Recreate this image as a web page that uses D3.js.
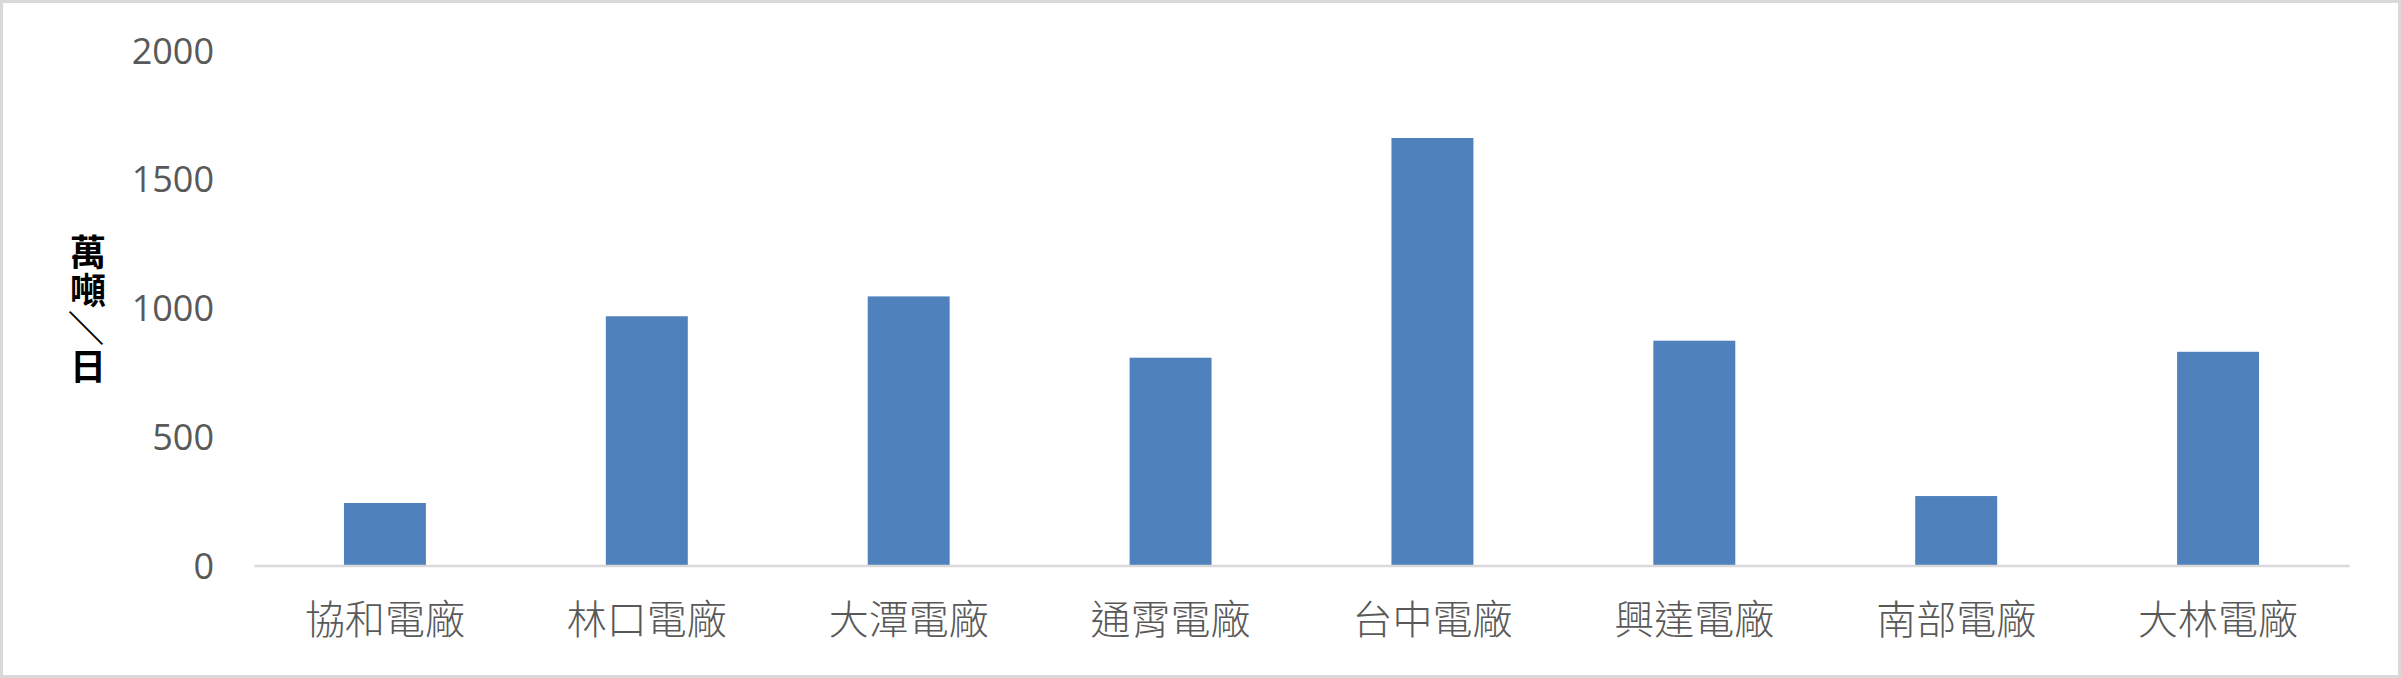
<!DOCTYPE html>
<html>
<head>
<meta charset="utf-8">
<script src="https://cdn.jsdelivr.net/npm/d3@7"></script>
<style>
  body { margin: 0; background: #fff; }
  svg { display: block; }
</style>
</head>
<body>
<div id="chart-area"></div>
<script>
var plants = ["協和電廠", "林口電廠", "大潭電廠", "通霄電廠", "台中電廠", "興達電廠", "南部電廠", "大林電廠"];
var values = [243, 968, 1045, 807, 1660, 873, 270, 830];
var yTicks = [0, 500, 1000, 1500, 2000];
var yTitle = ["萬噸", "／", "日"];

var width = 2401;
var height = 678;
var margin = {top: 50.4, right: 52, bottom: 112.4, left: 254};

var svg = d3.select("#chart-area").append("svg")
    .attr("width", width)
    .attr("height", height);

// outer frame
svg.append("rect")
    .attr("x", 1.5).attr("y", 1.5)
    .attr("width", width - 3).attr("height", height - 3)
    .attr("fill", "#fff")
    .attr("stroke", "#d9d9d9")
    .attr("stroke-width", 3);

var x = d3.scaleBand()
    .domain(plants)
    .range([margin.left, width - margin.right])
    .paddingInner(0.687)
    .paddingOuter(0.3435);

var y = d3.scaleLinear()
    .domain([0, 2000])
    .range([height - margin.bottom, margin.top]);

// y tick labels
var yAxis = svg.append("g")
    .attr("transform", "translate(" + margin.left + ",0)")
    .call(d3.axisLeft(y).tickValues(yTicks).tickFormat(d3.format("d")).tickSize(0).tickPadding(40));
yAxis.select(".domain").remove();
yAxis.selectAll("text")
    .attr("font-family", "'Open Sans', sans-serif")
    .attr("font-size", 36)
    .attr("fill", "#595959")
    .attr("dy", "0.35em");

// bars
svg.selectAll("rect.bar").data(values)
    .enter()
    .append("rect")
        .attr("class", "bar")
        .attr("x", (d, i) => x(plants[i]))
        .attr("y", (d) => y(d))
        .attr("width", x.bandwidth())
        .attr("height", (d) => y(0) - y(d))
        .attr("fill", "#4f81bd");

// x axis
var xAxis = svg.append("g")
    .attr("transform", "translate(0," + y(0) + ")")
    .call(d3.axisBottom(x).tickSize(0).tickPadding(0));
xAxis.select(".domain")
    .attr("stroke", "#d9d9d9")
    .attr("stroke-width", 2.5);
xAxis.selectAll("text")
    .attr("font-family", "'Noto Sans CJK TC', sans-serif")
    .attr("font-weight", 300)
    .attr("font-size", 40)
    .attr("fill", "#595959")
    .attr("y", 54)
    .attr("dy", "0.35em");

// y title, vertical; the slash is set sideways
var title = svg.append("text")
    .attr("x", 88)
    .attr("y", 234)
    .attr("writing-mode", "vertical-rl")
    .attr("font-family", "'Noto Sans CJK TC', sans-serif")
    .attr("font-weight", "bold")
    .attr("font-size", 36)
    .attr("fill", "#000")
    .attr("letter-spacing", 2);
title.selectAll("tspan").data(yTitle)
    .enter()
    .append("tspan")
        .style("text-orientation", (d) => d === "／" ? "sideways" : "mixed")
        .text((d) => d);
</script>
</body>
</html>
